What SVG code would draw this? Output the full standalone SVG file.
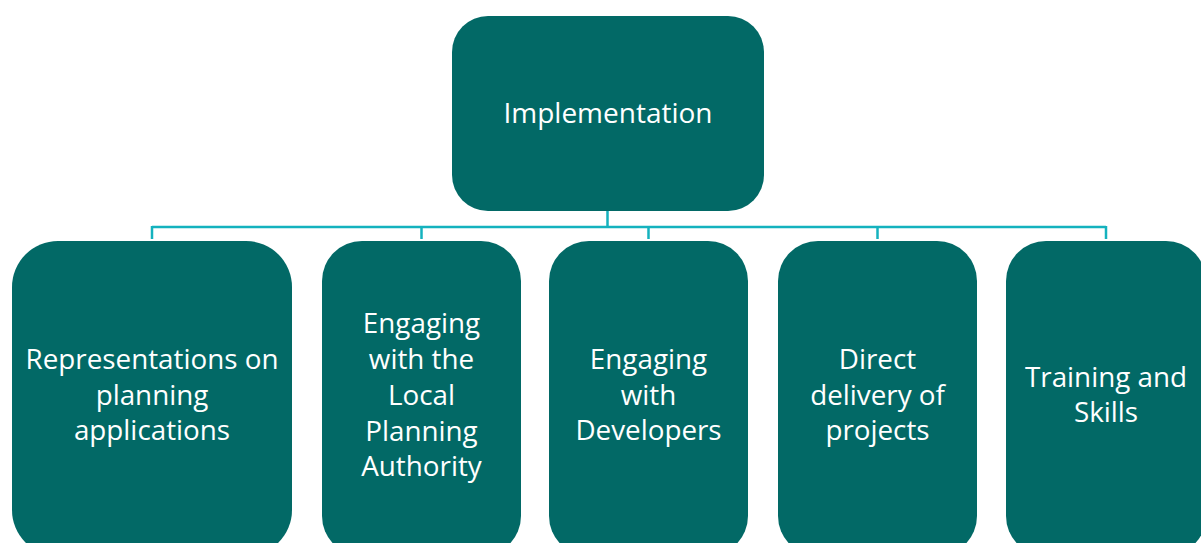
<svg xmlns="http://www.w3.org/2000/svg" width="1201" height="543" viewBox="0 0 1201 543">
<style>
.box{fill:#026966;}
.lbl{font-family:"Open Sans",Lato,"Liberation Sans",sans-serif;font-size:27.8px;fill:#ffffff;text-anchor:middle;}
.top{font-size:28px;}
.conn{fill:none;stroke:#14B2BE;stroke-width:2.5;}
</style>
<rect width="1201" height="543" fill="#ffffff"/>
<g id="connectors">
<path class="conn" d="M607.5,211 V227 M152,227 H1106 M152,226 V239 M421.5,226 V239 M648.5,226 V239 M877.5,226 V239 M1106,226 V239"/>
</g>
<g id="node-implementation">
<rect class="box" x="452" y="16" width="312" height="195" rx="36" ry="36"/>
<text class="lbl top" x="608" y="123">Implementation</text>
</g>
<g id="node-representations">
<rect class="box" x="12" y="241" width="280" height="315" rx="46" ry="46"/>
<text class="lbl" x="152" y="369">Representations on</text>
<text class="lbl" x="152" y="405">planning</text>
<text class="lbl" x="152" y="440">applications</text>
</g>
<g id="node-lpa">
<rect class="box" x="322" y="241" width="199" height="315" rx="40" ry="40"/>
<text class="lbl" x="421.5" y="333">Engaging</text>
<text class="lbl" x="421.5" y="369">with the</text>
<text class="lbl" x="421.5" y="405">Local</text>
<text class="lbl" x="421.5" y="441">Planning</text>
<text class="lbl" x="421.5" y="476">Authority</text>
</g>
<g id="node-developers">
<rect class="box" x="549" y="241" width="199" height="315" rx="40" ry="40"/>
<text class="lbl" x="648.5" y="369">Engaging</text>
<text class="lbl" x="648.5" y="405">with</text>
<text class="lbl" x="648.5" y="440">Developers</text>
</g>
<g id="node-delivery">
<rect class="box" x="778" y="241" width="199" height="315" rx="40" ry="40"/>
<text class="lbl" x="877.5" y="369">Direct</text>
<text class="lbl" x="877.5" y="405">delivery of</text>
<text class="lbl" x="877.5" y="440">projects</text>
</g>
<g id="node-training">
<rect class="box" x="1006" y="241" width="200" height="315" rx="40" ry="40"/>
<text class="lbl" x="1106" y="387">Training and</text>
<text class="lbl" x="1106" y="422">Skills</text>
</g>
</svg>
